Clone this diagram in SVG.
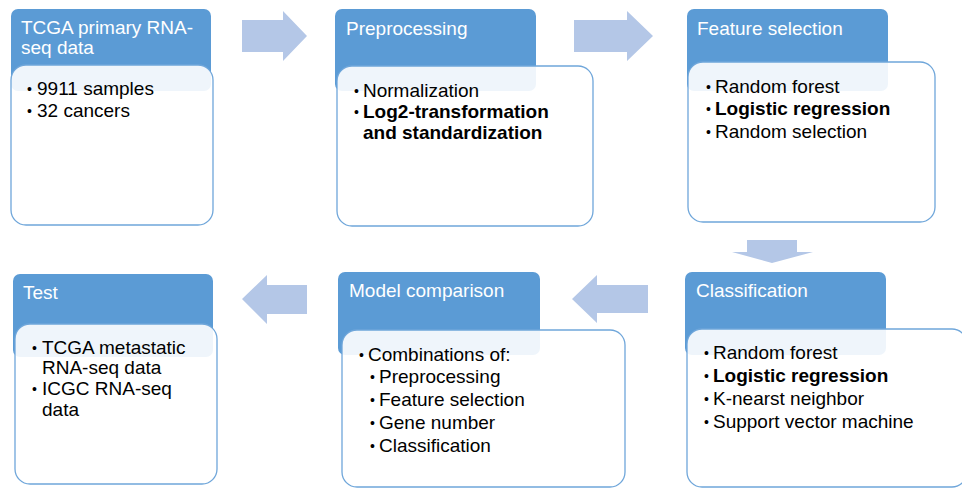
<svg xmlns="http://www.w3.org/2000/svg" width="962" height="489" viewBox="0 0 962 489">
<style>
.hd{fill:#5b9bd5}
.bx{fill:#ffffff;fill-opacity:0.9;stroke:#6fa6da;stroke-width:1.3}
.ar{fill:#b4c7e7}
text{font-family:"Liberation Sans",Arial,sans-serif;font-size:19px}
.ht{fill:#ffffff}
.bt{fill:#000000}
.b{font-weight:bold}
.d{font-size:14px}
</style>
<rect width="962" height="489" fill="#ffffff"/>
<g id="connectors">
<polygon class="ar" points="242,20 283,20 283,11 307,36 283,61 283,52 242,52"/>
<polygon class="ar" points="574,20 627,20 627,11 653,36 627,61 627,52 574,52"/>
<polygon class="ar" points="747,240 797,240 797,252 813,252 772,263 732,252 747,252"/>
<polygon class="ar" points="648,285 597,285 597,275 572,299 597,323 597,313 648,313"/>
<polygon class="ar" points="307,285 267,285 267,275 242,299 267,324 267,314 307,314"/>
</g>
<g id="n1">
<rect class="hd" x="11" y="9" width="200" height="82" rx="7"/>
<rect class="bx" x="11" y="65" width="202" height="160" rx="15"/>
<text class="ht" x="21" y="34">TCGA primary RNA-</text>
<text class="ht" x="21" y="54">seq data</text>
<text class="bt d" x="27" y="94">•</text><text class="bt" x="37" y="95">9911 samples</text>
<text class="bt d" x="27" y="116">•</text><text class="bt" x="37" y="117">32 cancers</text>
</g>
<g id="n2">
<rect class="hd" x="335" y="9" width="201" height="82" rx="7"/>
<rect class="bx" x="337" y="66" width="256" height="160" rx="15"/>
<text class="ht" x="346" y="35">Preprocessing</text>
<text class="bt d" x="354" y="96">•</text><text class="bt" x="363" y="97">Normalization</text>
<text class="bt d" x="354" y="117">•</text><text class="bt b" x="363" y="118">Log2-transformation</text>
<text class="bt b" x="363" y="139">and standardization</text>
</g>
<g id="n3">
<rect class="hd" x="687" y="9" width="201" height="82" rx="7"/>
<rect class="bx" x="688" y="62" width="247" height="160" rx="15"/>
<text class="ht" x="697" y="35">Feature selection</text>
<text class="bt d" x="706" y="92">•</text><text class="bt" x="715" y="93">Random forest</text>
<text class="bt d" x="706" y="114">•</text><text class="bt b" x="715" y="115">Logistic regression</text>
<text class="bt d" x="706" y="137">•</text><text class="bt" x="715" y="138">Random selection</text>
</g>
<g id="n4">
<rect class="hd" x="685" y="272" width="201" height="83" rx="7"/>
<rect class="bx" x="687" y="329" width="280" height="158" rx="15"/>
<text class="ht" x="696" y="297">Classification</text>
<text class="bt d" x="704" y="358">•</text><text class="bt" x="713" y="359">Random forest</text>
<text class="bt d" x="704" y="381">•</text><text class="bt b" x="713" y="382">Logistic regression</text>
<text class="bt d" x="704" y="404">•</text><text class="bt" x="713" y="405">K-nearst neighbor</text>
<text class="bt d" x="704" y="427">•</text><text class="bt" x="713" y="428">Support vector machine</text>
</g>
<g id="n5">
<rect class="hd" x="338" y="272" width="202" height="83" rx="7"/>
<rect class="bx" x="342" y="330" width="283" height="157" rx="15"/>
<text class="ht" x="349" y="297">Model comparison</text>
<text class="bt d" x="359" y="360">•</text><text class="bt" x="368" y="361">Combinations of:</text>
<text class="bt d" x="370" y="382">•</text><text class="bt" x="379" y="383">Preprocessing</text>
<text class="bt d" x="370" y="405">•</text><text class="bt" x="379" y="406">Feature selection</text>
<text class="bt d" x="370" y="428">•</text><text class="bt" x="379" y="429">Gene number</text>
<text class="bt d" x="370" y="451">•</text><text class="bt" x="379" y="452">Classification</text>
</g>
<g id="n6">
<rect class="hd" x="13" y="274" width="200" height="83" rx="7"/>
<rect class="bx" x="15" y="324" width="202" height="160" rx="15"/>
<text class="ht" x="23" y="299">Test</text>
<text class="bt d" x="32" y="353">•</text><text class="bt" x="42" y="354">TCGA metastatic</text>
<text class="bt" x="42" y="374">RNA-seq data</text>
<text class="bt d" x="32" y="394">•</text><text class="bt" x="42" y="395">ICGC RNA-seq</text>
<text class="bt" x="42" y="416">data</text>
</g>
</svg>
